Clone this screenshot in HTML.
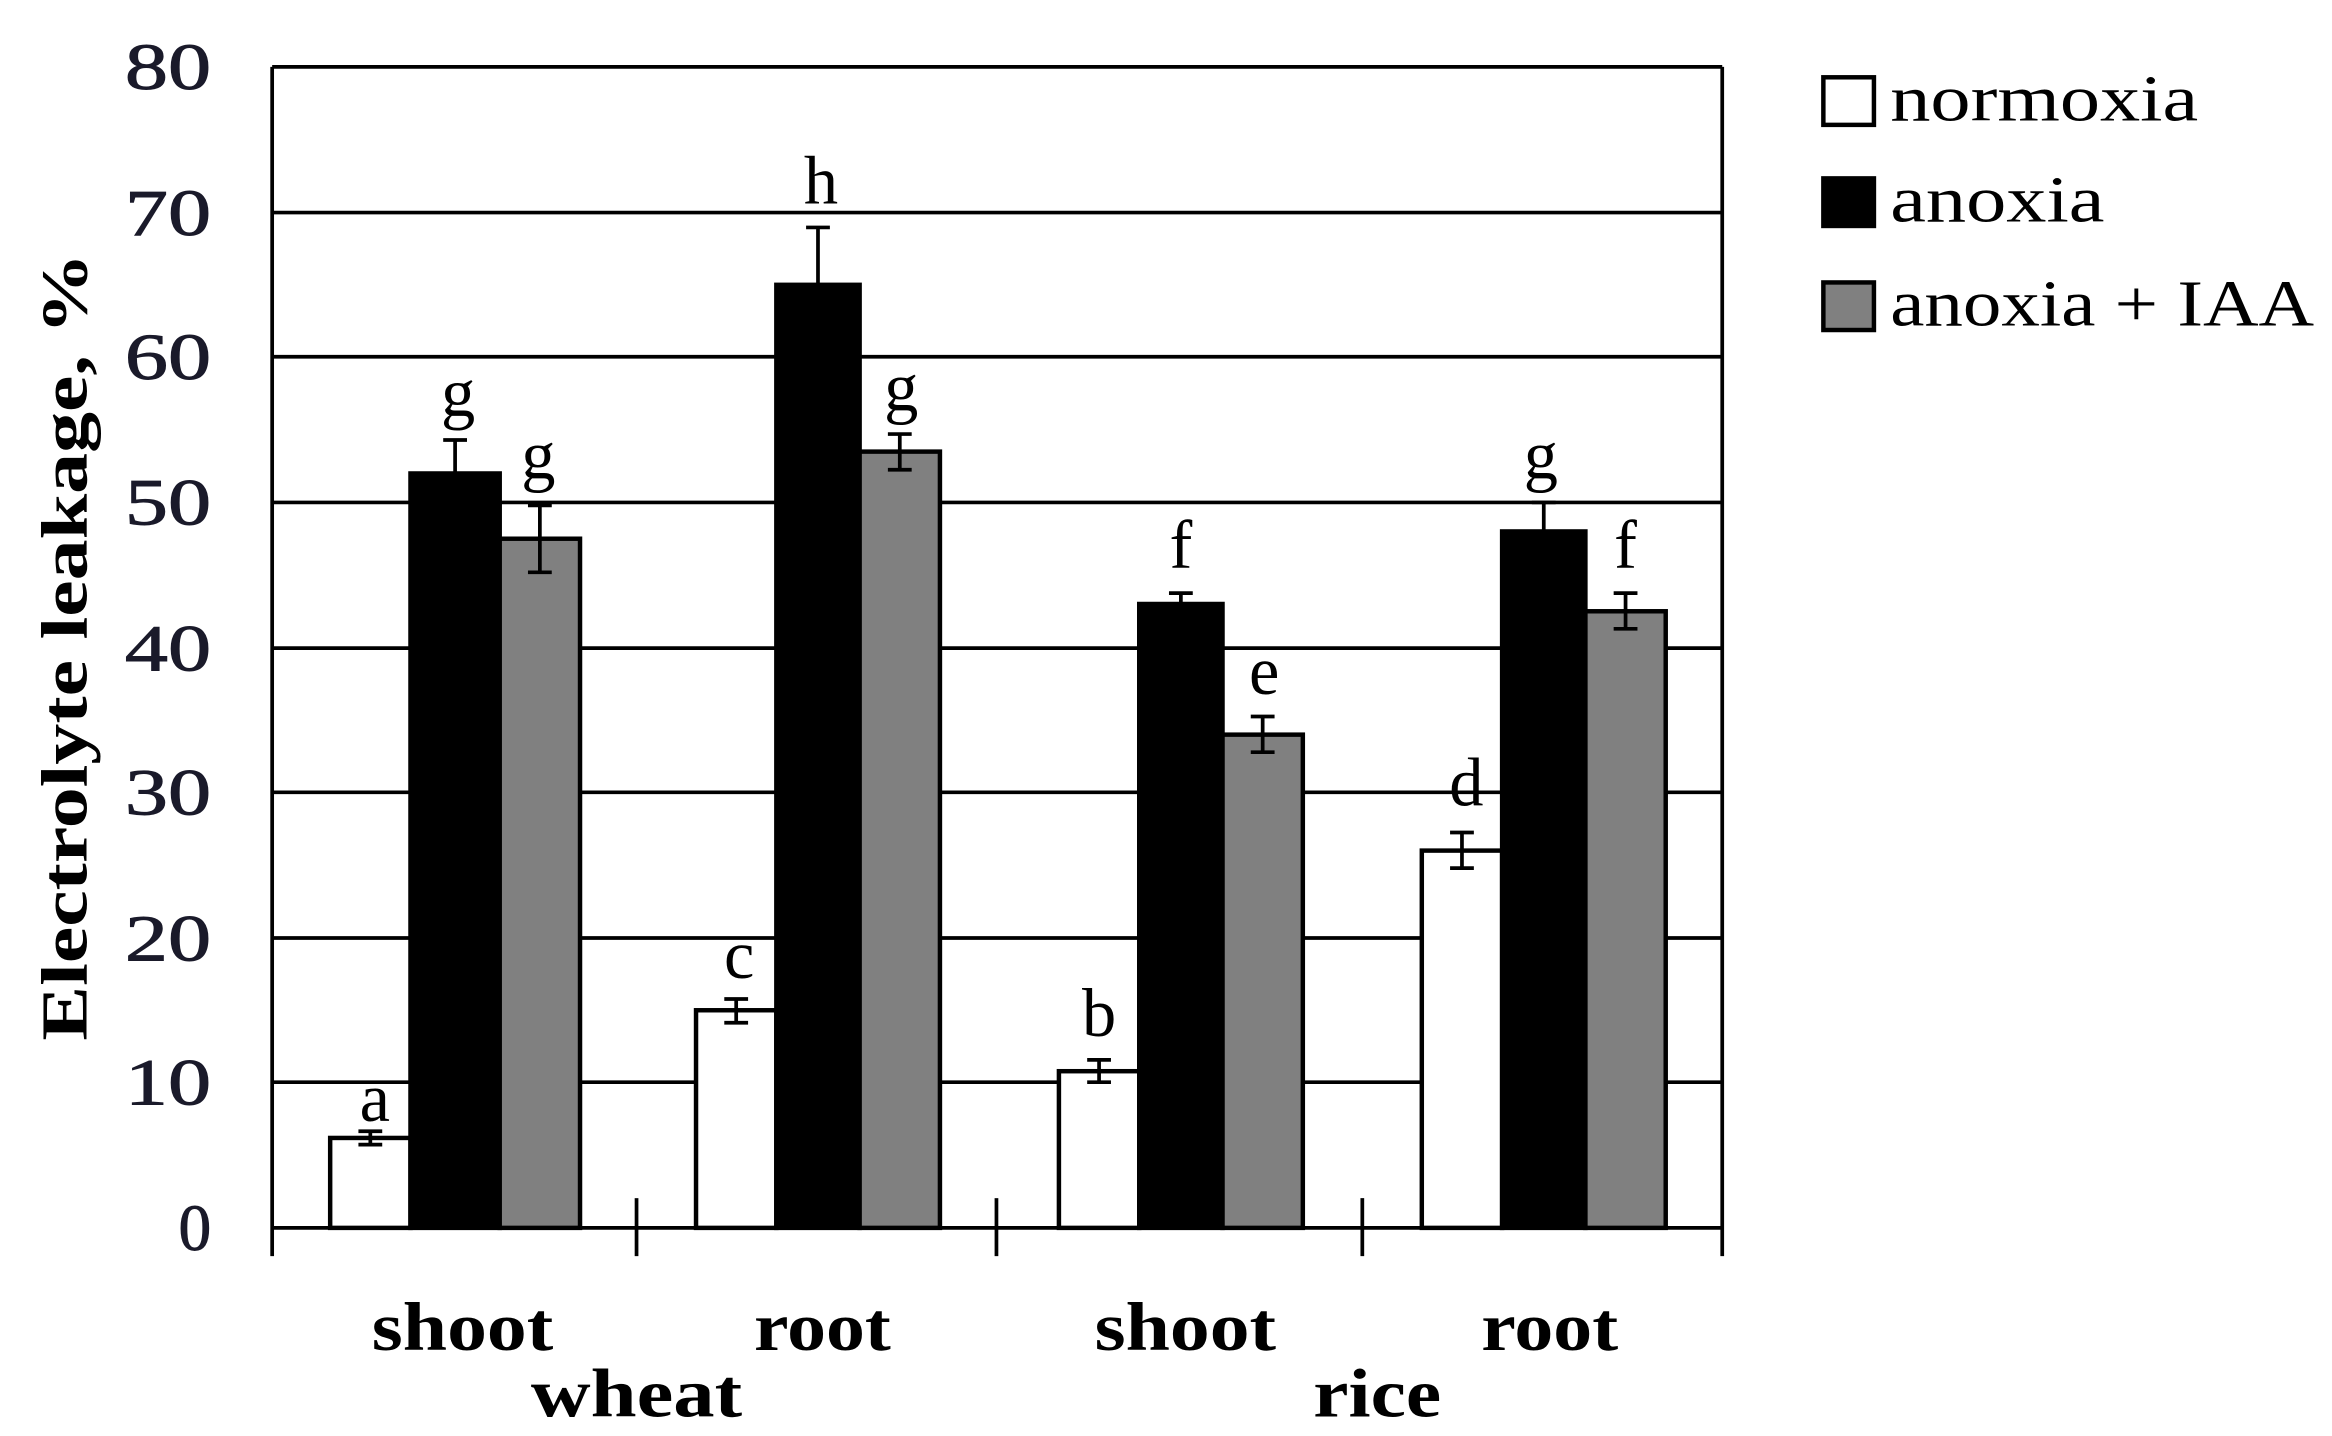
<!DOCTYPE html>
<html><head><meta charset="utf-8"><style>html,body{margin:0;padding:0;background:#fff}svg{display:block}</style></head>
<body>
<svg width="2332" height="1436" viewBox="0 0 1568 966" preserveAspectRatio="none" xmlns="http://www.w3.org/2000/svg" font-family="Liberation Serif, serif">
<rect width="1568" height="966" fill="#fff"/>
<g stroke="#000" stroke-width="2.5">
<line x1="183" y1="45" x2="1158" y2="45"/>
<line x1="183" y1="143" x2="1158" y2="143"/>
<line x1="183" y1="240" x2="1158" y2="240"/>
<line x1="183" y1="338" x2="1158" y2="338"/>
<line x1="183" y1="436" x2="1158" y2="436"/>
<line x1="183" y1="533" x2="1158" y2="533"/>
<line x1="183" y1="631" x2="1158" y2="631"/>
<line x1="183" y1="728" x2="1158" y2="728"/>
<line x1="183" y1="45" x2="183" y2="845"/>
<line x1="1158" y1="45" x2="1158" y2="845"/>
<line x1="183" y1="826" x2="1158" y2="826"/>
<line x1="428" y1="806" x2="428" y2="845"/>
<line x1="670" y1="806" x2="670" y2="845"/>
<line x1="916" y1="806" x2="916" y2="845"/>
</g>
<g stroke="#000" stroke-width="3">
<rect x="222" y="765.5" width="54" height="60.5" fill="#fff"/>
<rect x="276" y="318.5" width="60" height="507.5" fill="#000"/>
<rect x="336" y="362.4" width="54" height="463.6" fill="#808080"/>
<rect x="468" y="679.6" width="54" height="146.4" fill="#fff"/>
<rect x="522" y="191.6" width="56" height="634.4" fill="#000"/>
<rect x="578" y="303.8" width="54" height="522.2" fill="#808080"/>
<rect x="712" y="720.6" width="54" height="105.4" fill="#fff"/>
<rect x="766" y="406.3" width="56" height="419.7" fill="#000"/>
<rect x="822" y="494.2" width="54" height="331.8" fill="#808080"/>
<rect x="956" y="572.2" width="54" height="253.8" fill="#fff"/>
<rect x="1010" y="357.5" width="56" height="468.5" fill="#000"/>
<rect x="1066" y="411.2" width="54" height="414.8" fill="#808080"/>
</g>
<g stroke="#000" stroke-width="2.5" fill="none">
<path d="M249 761v9M241 761h16M241 770h16"/>
<path d="M306 296v45M298 296h16M298 341h16"/>
<path d="M363 340v45M355 340h16M355 385h16"/>
<path d="M495 672v16M487 672h16M487 688h16"/>
<path d="M550 153v77M542 153h16M542 230h16"/>
<path d="M605 292v24M597 292h16M597 316h16"/>
<path d="M739 713v15M731 713h16M731 728h16"/>
<path d="M794 399v14M786 399h16M786 413h16"/>
<path d="M849 482v24M841 482h16M841 506h16"/>
<path d="M983 560v24M975 560h16M975 584h16"/>
<path d="M1038 338v39M1030 338h16M1030 377h16"/>
<path d="M1093 399v24M1085 399h16M1085 423h16"/>
</g>
<g font-size="46" text-anchor="middle" fill="#000">
<text x="252" y="754">a</text>
<text x="308" y="280">g</text>
<text x="362" y="322">g</text>
<text x="497" y="658">c</text>
<text x="552" y="137">h</text>
<text x="606" y="276">g</text>
<text x="739" y="697">b</text>
<text x="794" y="382">f</text>
<text x="850" y="467">e</text>
<text x="986" y="542">d</text>
<text x="1036" y="322">g</text>
<text x="1093" y="382">f</text>
</g>
<g font-size="44" text-anchor="end" fill="#1a1a2a" stroke="#1a1a2a" stroke-width="0.6">
<text x="142" y="60" textLength="58" lengthAdjust="spacingAndGlyphs">80</text>
<text x="142" y="158" textLength="58" lengthAdjust="spacingAndGlyphs">70</text>
<text x="142" y="255" textLength="58" lengthAdjust="spacingAndGlyphs">60</text>
<text x="142" y="353" textLength="58" lengthAdjust="spacingAndGlyphs">50</text>
<text x="142" y="451" textLength="58" lengthAdjust="spacingAndGlyphs">40</text>
<text x="142" y="548" textLength="58" lengthAdjust="spacingAndGlyphs">30</text>
<text x="142" y="646" textLength="58" lengthAdjust="spacingAndGlyphs">20</text>
<text x="142" y="743" textLength="58" lengthAdjust="spacingAndGlyphs">10</text>
<text x="142" y="841">0</text>
</g>
<text transform="translate(58,435) rotate(-90)" font-size="44" font-weight="bold" text-anchor="middle" textLength="530" lengthAdjust="spacingAndGlyphs">Electrolyte leakage, %</text>
<g font-size="46" font-weight="bold" text-anchor="middle">
<text x="311" y="908" textLength="122" lengthAdjust="spacingAndGlyphs">shoot</text>
<text x="553" y="908" textLength="92" lengthAdjust="spacingAndGlyphs">root</text>
<text x="797" y="908" textLength="122" lengthAdjust="spacingAndGlyphs">shoot</text>
<text x="1042" y="908" textLength="92" lengthAdjust="spacingAndGlyphs">root</text>
<text x="428" y="953" textLength="142" lengthAdjust="spacingAndGlyphs">wheat</text>
<text x="926" y="953" textLength="86" lengthAdjust="spacingAndGlyphs">rice</text>
</g>
<g stroke="#000" stroke-width="3">
<rect x="1226" y="52" width="34" height="32" fill="#fff"/>
<rect x="1226" y="120" width="34" height="32" fill="#000"/>
<rect x="1226" y="190" width="34" height="32" fill="#808080"/>
</g>
<g font-size="44">
<text x="1271" y="81" textLength="207" lengthAdjust="spacingAndGlyphs">normoxia</text>
<text x="1271" y="149" textLength="144" lengthAdjust="spacingAndGlyphs">anoxia</text>
<text x="1271" y="219" textLength="285" lengthAdjust="spacingAndGlyphs">anoxia + IAA</text>
</g>
</svg>
</body></html>
